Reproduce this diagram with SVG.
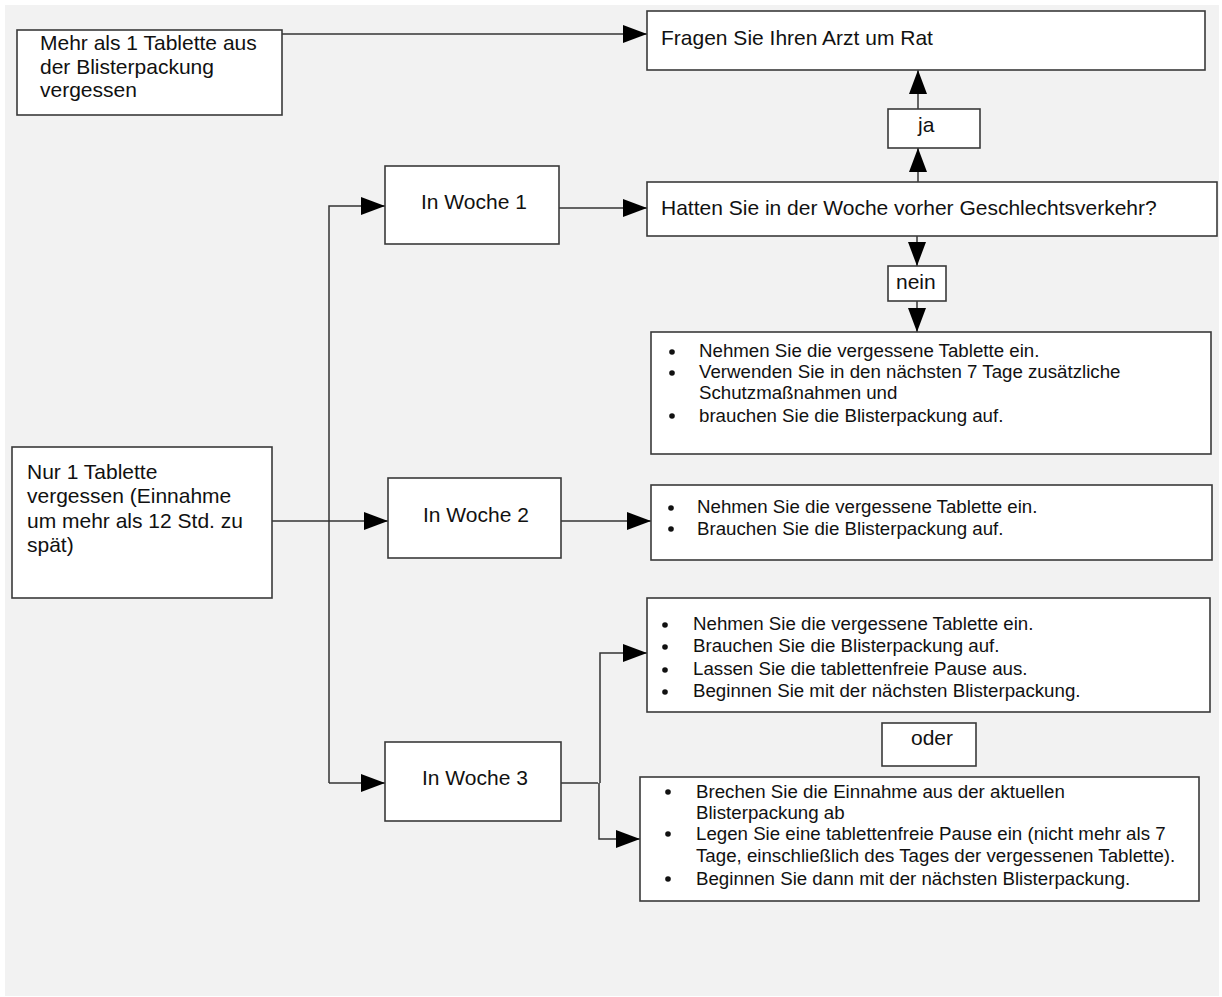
<svg xmlns="http://www.w3.org/2000/svg" width="1222" height="997" viewBox="0 0 1222 997">
<defs>
<style>
.bx{fill:#fff;stroke:#3a3a3a;stroke-width:1.6}
.t{font-family:"Liberation Sans",Arial,sans-serif;font-size:21px;fill:#111}
.s{font-family:"Liberation Sans",Arial,sans-serif;font-size:18.7px;fill:#111}
.c{fill:none;stroke:#333;stroke-width:1.5}
.dot{fill:#111}
</style>
<marker id="ah" viewBox="0 0 24 18" refX="24" refY="9" markerWidth="24" markerHeight="18" markerUnits="userSpaceOnUse" orient="auto">
<path d="M0,0 L24,9 L0,18 Z" fill="#000"/>
</marker>
</defs>
<rect x="0" y="0" width="1222" height="997" fill="#fff"/>
<rect x="5" y="5" width="1214" height="991" fill="#f2f2f2"/>

<g id="connectors">
<path class="c" d="M282,34 H647" marker-end="url(#ah)"/>
<path class="c" d="M918,109 V70" marker-end="url(#ah)"/>
<path class="c" d="M918,182 V148" marker-end="url(#ah)"/>
<path class="c" d="M917,236 V266" marker-end="url(#ah)"/>
<path class="c" d="M917,301 V332" marker-end="url(#ah)"/>
<path class="c" d="M559,208 H647" marker-end="url(#ah)"/>
<path class="c" d="M272,521 H388" marker-end="url(#ah)"/>
<path class="c" d="M329,783 V206 H385" marker-end="url(#ah)"/>
<path class="c" d="M329,783 H385" marker-end="url(#ah)"/>
<path class="c" d="M561,521 H651" marker-end="url(#ah)"/>
<path class="c" d="M561,783 H598"/>
<path class="c" d="M600,783 V653 H647" marker-end="url(#ah)"/>
<path class="c" d="M599,783 V839 H640" marker-end="url(#ah)"/>
</g>

<g id="mehr">
<rect class="bx" x="17" y="30" width="265" height="85"/>
<text class="t" x="40" y="50">Mehr als 1 Tablette aus</text>
<text class="t" x="40" y="74">der Blisterpackung</text>
<text class="t" x="40" y="97">vergessen</text>
</g>

<g id="fragen">
<rect class="bx" x="647" y="11" width="558" height="59"/>
<text class="t" x="661" y="45">Fragen Sie Ihren Arzt um Rat</text>
</g>

<g id="ja">
<rect class="bx" x="888" y="109" width="92" height="39"/>
<text class="t" x="918" y="132">ja</text>
</g>

<g id="hatten">
<rect class="bx" x="647" y="182" width="570" height="54"/>
<text class="t" x="661" y="215">Hatten Sie in der Woche vorher Geschlechtsverkehr?</text>
</g>

<g id="nein">
<rect class="bx" x="888" y="266" width="58" height="35"/>
<text class="t" x="896" y="289">nein</text>
</g>

<g id="woche1">
<rect class="bx" x="385" y="166" width="174" height="78"/>
<text class="t" x="421" y="209">In Woche 1</text>
</g>

<g id="box1">
<rect class="bx" x="651" y="332" width="560" height="122"/>
<circle class="dot" cx="672" cy="352" r="2.8"/>
<circle class="dot" cx="672" cy="373" r="2.8"/>
<circle class="dot" cx="672" cy="416" r="2.8"/>
<text class="s" x="699" y="357">Nehmen Sie die vergessene Tablette ein.</text>
<text class="s" x="699" y="378">Verwenden Sie in den nächsten 7 Tage zusätzliche</text>
<text class="s" x="699" y="399">Schutzmaßnahmen und</text>
<text class="s" x="699" y="422">brauchen Sie die Blisterpackung auf.</text>
</g>

<g id="nur1">
<rect class="bx" x="12" y="447" width="260" height="151"/>
<text class="t" x="27" y="479">Nur 1 Tablette</text>
<text class="t" x="27" y="503">vergessen (Einnahme</text>
<text class="t" x="27" y="528">um mehr als 12 Std. zu</text>
<text class="t" x="27" y="552">spät)</text>
</g>

<g id="woche2">
<rect class="bx" x="388" y="478" width="173" height="80"/>
<text class="t" x="423" y="522">In Woche 2</text>
</g>

<g id="box2">
<rect class="bx" x="651" y="485" width="561" height="75"/>
<circle class="dot" cx="671" cy="508" r="2.8"/>
<circle class="dot" cx="671" cy="529" r="2.8"/>
<text class="s" x="697" y="513">Nehmen Sie die vergessene Tablette ein.</text>
<text class="s" x="697" y="535">Brauchen Sie die Blisterpackung auf.</text>
</g>

<g id="box3a">
<rect class="bx" x="647" y="598" width="563" height="114"/>
<circle class="dot" cx="665" cy="625" r="2.8"/>
<circle class="dot" cx="665" cy="647" r="2.8"/>
<circle class="dot" cx="665" cy="670" r="2.8"/>
<circle class="dot" cx="665" cy="692" r="2.8"/>
<text class="s" x="693" y="630">Nehmen Sie die vergessene Tablette ein.</text>
<text class="s" x="693" y="652">Brauchen Sie die Blisterpackung auf.</text>
<text class="s" x="693" y="675">Lassen Sie die tablettenfreie Pause aus.</text>
<text class="s" x="693" y="697">Beginnen Sie mit der nächsten Blisterpackung.</text>
</g>

<g id="oder">
<rect class="bx" x="882" y="723" width="94" height="43"/>
<text class="t" x="911" y="745">oder</text>
</g>

<g id="woche3">
<rect class="bx" x="385" y="742" width="176" height="79"/>
<text class="t" x="422" y="785">In Woche 3</text>
</g>

<g id="box3b">
<rect class="bx" x="640" y="777" width="559" height="124"/>
<circle class="dot" cx="668" cy="792" r="2.8"/>
<circle class="dot" cx="668" cy="834" r="2.8"/>
<circle class="dot" cx="668" cy="879" r="2.8"/>
<text class="s" x="696" y="798">Brechen Sie die Einnahme aus der aktuellen</text>
<text class="s" x="696" y="819">Blisterpackung ab</text>
<text class="s" x="696" y="840">Legen Sie eine tablettenfreie Pause ein (nicht mehr als 7</text>
<text class="s" x="696" y="862">Tage, einschließlich des Tages der vergessenen Tablette).</text>
<text class="s" x="696" y="885">Beginnen Sie dann mit der nächsten Blisterpackung.</text>
</g>
</svg>
